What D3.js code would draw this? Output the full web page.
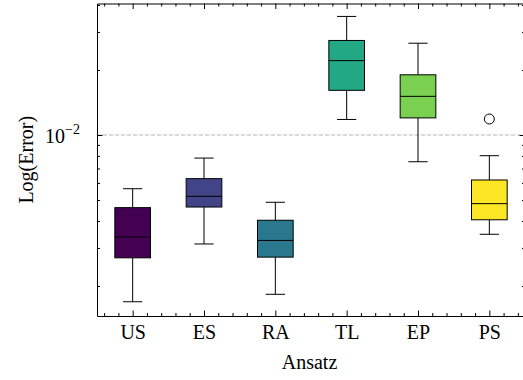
<!DOCTYPE html>
<html lang='en'>
<head>
<meta charset='UTF-8'>
<script src='https://d3js.org/d3.v7.min.js'></script>
<title>Log(Error) by Ansatz</title>
<style>
  body { margin: 0; background: #fff; }
  svg text { font-family: 'Liberation Serif', 'DejaVu Serif', serif; fill: #000; }
</style>
</head>
<body>
<svg id='chart' width='523' height='380'></svg>

<script>
// box statistics
const categories  = ['US', 'ES', 'RA', 'TL', 'EP', 'PS']
const whiskerLow  = [0.00169, 0.00313, 0.00183, 0.0118, 0.00752, 0.00347]
const q1          = [0.00270, 0.00464, 0.00272, 0.0161, 0.0120, 0.00405]
const median      = [0.00337, 0.00520, 0.00325, 0.0221, 0.0151, 0.00481]
const q3          = [0.00461, 0.00628, 0.00403, 0.0274, 0.0190, 0.00619]
const whiskerHigh = [0.00564, 0.00782, 0.00488, 0.0354, 0.0266, 0.00802]
const fliers      = [[], [], [], [], [], [0.01186]]
const colors      = ['#440154', '#414487', '#2a788e', '#22a884', '#7ad151', '#fde725']

const yMajor = [0.01]
const yMinor = [0.002, 0.003, 0.004, 0.005, 0.006, 0.007, 0.008, 0.009, 0.02, 0.03, 0.04]

const boxes = categories.map((c, i) => ({
  name: c, pos: i + 1, lo: whiskerLow[i], q1: q1[i], med: median[i],
  q3: q3[i], hi: whiskerHigh[i], fliers: fliers[i], color: colors[i]
}))

const svg = d3.select('#chart')
const pLeft = 97, pRight = 525, pTop = 3.5, pBottom = 316

const x = d3.scaleLinear().domain([0.5, 6.5]).range([pLeft, pRight])
const y = d3.scaleLog().domain([0.001452, 0.04063]).range([pBottom, pTop])

// minor x ticks every 0.2, skipping the category positions
const xMinor = d3.range(3, 33).map(k => k / 5).filter(v => Math.abs(v - Math.round(v)) > 1e-6)

// dashed reference line at 1e-2
svg.append('line')
  .attr('x1', pLeft).attr('x2', pRight)
  .attr('y1', y(0.01)).attr('y2', y(0.01))
  .style('stroke', '#b5b5b5').style('stroke-width', 1)
  .style('stroke-dasharray', '4,2')

// boxes
const halfBox = 0.25, halfCap = 0.135
const bx = svg.selectAll('g.box').data(boxes).enter().append('g').attr('class', 'box')

bx.append('line') // lower whisker
  .attr('x1', d => x(d.pos)).attr('x2', d => x(d.pos))
  .attr('y1', d => y(d.q1)).attr('y2', d => y(d.lo))
bx.append('line') // upper whisker
  .attr('x1', d => x(d.pos)).attr('x2', d => x(d.pos))
  .attr('y1', d => y(d.q3)).attr('y2', d => y(d.hi))
bx.append('line')
  .attr('x1', d => x(d.pos - halfCap)).attr('x2', d => x(d.pos + halfCap))
  .attr('y1', d => y(d.lo)).attr('y2', d => y(d.lo))
bx.append('line')
  .attr('x1', d => x(d.pos - halfCap)).attr('x2', d => x(d.pos + halfCap))
  .attr('y1', d => y(d.hi)).attr('y2', d => y(d.hi))
bx.selectAll('line').style('stroke', '#000').style('stroke-width', 1)

bx.append('rect')
  .attr('x', d => x(d.pos - halfBox))
  .attr('width', d => x(d.pos + halfBox) - x(d.pos - halfBox))
  .attr('y', d => y(d.q3))
  .attr('height', d => y(d.q1) - y(d.q3))
  .style('fill', d => d.color)
  .style('stroke', '#000').style('stroke-width', 1)

bx.append('line') // median
  .attr('x1', d => x(d.pos - halfBox)).attr('x2', d => x(d.pos + halfBox))
  .attr('y1', d => y(d.med)).attr('y2', d => y(d.med))
  .style('stroke', '#000').style('stroke-width', 1)

bx.selectAll('circle')
  .data(d => d.fliers.map(v => ({ pos: d.pos, v })))
  .enter().append('circle')
    .attr('cx', d => x(d.pos)).attr('cy', d => y(d.v)).attr('r', 5)
    .style('fill', 'none').style('stroke', '#000').style('stroke-width', 1)

// axes: ticks point inwards on all four sides
function drawAxis(axisFn, scale, major, minor, transform, withLabels) {
  const gMin = svg.append('g').attr('transform', transform)
    .call(axisFn(scale).tickValues(minor).tickSize(-3).tickFormat(''))
  gMin.select('.domain').remove()
  const gMaj = svg.append('g').attr('transform', transform)
    .call(axisFn(scale).tickValues(major).tickSizeInner(-5.5).tickSizeOuter(0)
      .tickFormat(withLabels || ''))
  gMaj.selectAll('line').style('stroke', '#000')
  gMin.selectAll('line').style('stroke', '#000')
  gMaj.select('.domain').style('stroke', '#000').style('stroke-width', 1)
  return gMaj
}

const xPos = d3.range(1, 7)
const gx = drawAxis(d3.axisBottom, x, xPos, xMinor, `translate(0,${pBottom})`, v => categories[v - 1])
gx.selectAll('text').attr('y', 0).attr('dy', 23).style('font-size', '20px')
drawAxis(d3.axisTop, x, xPos, xMinor, `translate(0,${pTop})`, null)
drawAxis(d3.axisLeft, y, yMajor, yMinor, `translate(${pLeft},0)`, null)
drawAxis(d3.axisRight, y, yMajor, yMinor, `translate(${pRight},0)`, null)

// 10^-2 tick label
const lab = svg.append('text')
  .attr('x', 45).attr('y', y(0.01) + 8)
  .style('font-size', '20px')
lab.append('tspan').text('10')
lab.append('tspan').attr('dy', -9).style('font-size', '14px').text('\u22122')

// axis titles
svg.append('text')
  .attr('x', (pLeft + 522) / 2).attr('y', 369)
  .attr('text-anchor', 'middle').style('font-size', '20px')
  .text('Ansatz')

svg.append('text')
  .attr('transform', `translate(33,${(pTop + pBottom) / 2}) rotate(-90)`)
  .attr('text-anchor', 'middle').style('font-size', '20px')
  .text('Log(Error)')
</script>
</body>
</html>
